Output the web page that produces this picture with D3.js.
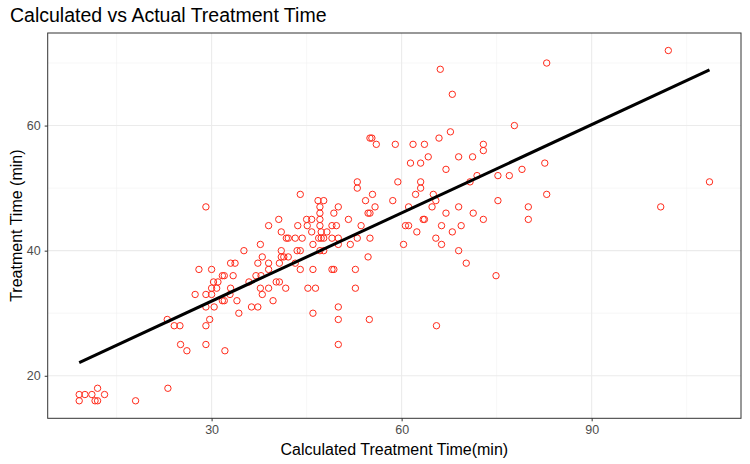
<!DOCTYPE html>
<html>
<head>
<meta charset="utf-8">
<script src="https://cdn.jsdelivr.net/npm/d3@7"></script>
<style>
   body { margin: 0; background: #fff; }
   svg text { font-family: "Liberation Sans", Arial, sans-serif; }
</style>
</head>
<body>
<div id="chart"></div>
<script>
// Calculated vs actual treatment time - scatter + fitted line

// 1) Data

var calcTime = [
   9.1, 9.1, 10.0, 11.1, 12.0, 11.6, 12.0, 13.1, 18.0, 23.1,
   25.1, 26.1, 29.1, 32.1,
   23.0, 24.1, 25.0, 27.4, 28.0, 29.1, 29.1, 29.1, 29.7, 30.0, 30.3, 31.0, 30.0, 30.0, 30.8, 31.7,
   32.0, 30.4, 31.7, 32.0, 33.0, 33.7, 33.4, 33.0, 32.9, 34.0, 34.3, 35.1, 35.9, 36.3, 37.3, 37.0,
   37.8, 37.3, 37.7, 38.0, 37.7, 38.0, 39.0, 39.0, 39.0, 39.7, 40.7, 41.0, 41.0, 41.0, 41.4, 41.8,
   42.1, 41.7, 40.2, 40.7, 43.2, 43.5, 43.2, 29.1,
   53.0, 53.0, 59.4, 44.0, 55.4, 46.8, 47.7, 54.3, 58.6, 47.1, 50.0, 55.8, 47.1, 49.3, 54.7, 55.0,
   40.6, 45.0, 45.8, 47.1, 51.6, 39.0, 43.6, 45.1, 47.1, 49.0, 49.7, 53.6, 45.8, 47.3, 48.2, 44.3,
   46.9, 47.3, 47.7, 49.0, 50.0, 53.0, 55.0, 46.0, 50.0, 51.9, 44.0, 47.1, 47.7, 42.1, 54.7, 44.0,
   46.0, 49.0, 49.3, 52.7, 45.2, 46.4, 52.7, 46.0, 50.0, 50.0, 54.9, 50.0,
   68.0, 77.8, 67.7, 65.9, 59.0, 61.8, 63.6, 72.9, 72.9, 64.2, 69.0, 71.2, 61.4, 63.0, 82.6, 67.0,
   79.0, 71.9, 75.2, 77.0, 70.8, 63.0, 63.0, 62.2, 65.0, 82.9, 65.4, 75.2, 61.1, 64.8, 69.0, 80.0,
   67.0, 71.3, 63.4, 63.6, 72.9, 80.0, 60.6, 61.1, 66.3, 69.4, 62.4, 68.0, 65.4, 60.3, 66.3, 69.0,
   70.2, 74.9, 65.5,
   102.1, 108.6, 100.9, 82.9, 66.1, 55.0, 55.3, 56.0
];

var actualTime = [
   17, 16, 17, 17, 18, 16, 16, 17, 16, 18,
   25, 24, 25, 24,
   29, 28, 28, 33, 37, 33, 31, 28, 29, 37, 35, 35, 34, 33, 34, 32,
   32, 31, 36, 36, 38, 38, 36, 34, 33, 32, 30, 40, 35, 31, 31, 36,
   36, 38, 41, 39, 34, 33, 38, 37, 34, 32, 38, 43, 40, 39, 39, 42,
   42, 34, 35, 35, 42, 40, 38, 47,
   51, 50, 51, 49, 49, 48, 48, 48, 48, 47, 47, 47, 46, 46, 46, 46,
   45, 45, 45, 45, 45, 44, 44, 44, 44, 44, 44, 44, 43, 43, 43, 42,
   42, 42, 42, 42, 42, 42, 42, 41, 41, 41, 40, 40, 40, 39, 39, 37,
   37, 37, 37, 37, 34, 34, 34, 30, 31, 29, 29, 25,
   65, 60, 59, 58, 57, 57, 57, 57, 56, 55, 55, 55, 54, 54, 54, 53,
   53, 52, 52, 52, 51, 51, 50, 49, 49, 49, 48, 48, 47, 47, 47, 47,
   46, 46, 45, 45, 45, 45, 44, 44, 44, 44, 43, 43, 42, 41, 41, 40,
   38, 36, 28,
   72, 51, 47, 70, 69, 58, 58, 57
];

// fitted line end points
var fitX = [9.1, 108.6];
var fitY = [22.1, 68.9];

var xBreaks = [30, 60, 90];
var xMinor = [15, 45, 75, 105];
var yBreaks = [20, 40, 60];
var yMinor = [30, 50, 70];

var points = calcTime.map(function(d, i) { return [d, actualTime[i]]; });

// 2) Layout

var width = 750, height = 464;
var panel = {left: 47.7, right: 741, top: 33, bottom: 418.3};

// ggplot style 5% expansion of the data range
var expand = function (ext) {
   var pad = (ext[1] - ext[0]) * 0.05;
   return [ext[0] - pad, ext[1] + pad];
};

var x = d3.scaleLinear()
    .domain(expand(d3.extent(calcTime)))
    .range([panel.left, panel.right]);

var y = d3.scaleLinear()
    .domain(expand(d3.extent(actualTime)))
    .range([panel.bottom, panel.top]);

var svg = d3.select("#chart").append("svg")
    .attr("width", width)
    .attr("height", height);

// 3) Panel and grid

svg.append("rect")
    .attr("x", panel.left).attr("y", panel.top)
    .attr("width", panel.right - panel.left)
    .attr("height", panel.bottom - panel.top)
    .attr("fill", "#fff");

var grid = svg.append("g");

grid.selectAll(".xminor").data(xMinor).enter().append("line")
    .attr("x1", function(d) { return x(d); }).attr("x2", function(d) { return x(d); })
    .attr("y1", panel.top).attr("y2", panel.bottom)
    .attr("stroke", "#f2f2f2").attr("stroke-width", 0.6);

grid.selectAll(".yminor").data(yMinor).enter().append("line")
    .attr("y1", function(d) { return y(d); }).attr("y2", function(d) { return y(d); })
    .attr("x1", panel.left).attr("x2", panel.right)
    .attr("stroke", "#f2f2f2").attr("stroke-width", 0.6);

grid.selectAll(".xmajor").data(xBreaks).enter().append("line")
    .attr("x1", function(d) { return x(d); }).attr("x2", function(d) { return x(d); })
    .attr("y1", panel.top).attr("y2", panel.bottom)
    .attr("stroke", "#ebebeb").attr("stroke-width", 1.1);

grid.selectAll(".ymajor").data(yBreaks).enter().append("line")
    .attr("y1", function(d) { return y(d); }).attr("y2", function(d) { return y(d); })
    .attr("x1", panel.left).attr("x2", panel.right)
    .attr("stroke", "#ebebeb").attr("stroke-width", 1.1);

// 4) Marks

svg.append("g").selectAll("circle")
    .data(points)
    .enter().append("circle")
    .attr("cx", function(d) { return x(d[0]); })
    .attr("cy", function(d) { return y(d[1]); })
    .attr("r", 3.2)
    .attr("fill", "none")
    .attr("stroke", "#ff2a1a")
    .attr("stroke-width", 1);

svg.append("path")
    .datum(d3.zip(fitX, fitY))
    .attr("d", d3.line().x(function(d) { return x(d[0]); }).y(function(d) { return y(d[1]); }))
    .attr("fill", "none")
    .attr("stroke", "#000")
    .attr("stroke-width", 3);

svg.append("rect")
    .attr("x", panel.left).attr("y", panel.top)
    .attr("width", panel.right - panel.left)
    .attr("height", panel.bottom - panel.top)
    .attr("fill", "none")
    .attr("stroke", "#333").attr("stroke-width", 1);

// 5) Axes

var xAxis = svg.append("g")
    .attr("transform", "translate(0," + panel.bottom + ")")
    .call(d3.axisBottom(x).tickValues(xBreaks).tickSize(3).tickPadding(4));
var yAxis = svg.append("g")
    .attr("transform", "translate(" + panel.left + ",0)")
    .call(d3.axisLeft(y).tickValues(yBreaks).tickSize(3).tickPadding(4));

[xAxis, yAxis].forEach(function (ax) {
   ax.select(".domain").remove();
   ax.selectAll(".tick line").attr("stroke", "#333").attr("stroke-width", 1);
   ax.selectAll(".tick text")
     .attr("fill", "#4d4d4d")
     .style("font-size", "12.5px")
     .style("font-family", "Liberation Sans, Arial, sans-serif");
});

// titles
svg.append("text")
    .attr("x", 10).attr("y", 22)
    .style("font-size", "19.5px")
    .attr("fill", "#000")
    .text("Calculated vs Actual Treatment Time");

svg.append("text")
    .attr("x", (panel.left + panel.right) / 2).attr("y", 455)
    .attr("text-anchor", "middle")
    .style("font-size", "16px")
    .text("Calculated Treatment Time(min)");

svg.append("text")
    .attr("transform", "translate(22," + ((panel.top + panel.bottom) / 2) + ") rotate(-90)")
    .attr("text-anchor", "middle")
    .style("font-size", "16px")
    .text("Treatment Time (min)");
</script>
</body>
</html>
